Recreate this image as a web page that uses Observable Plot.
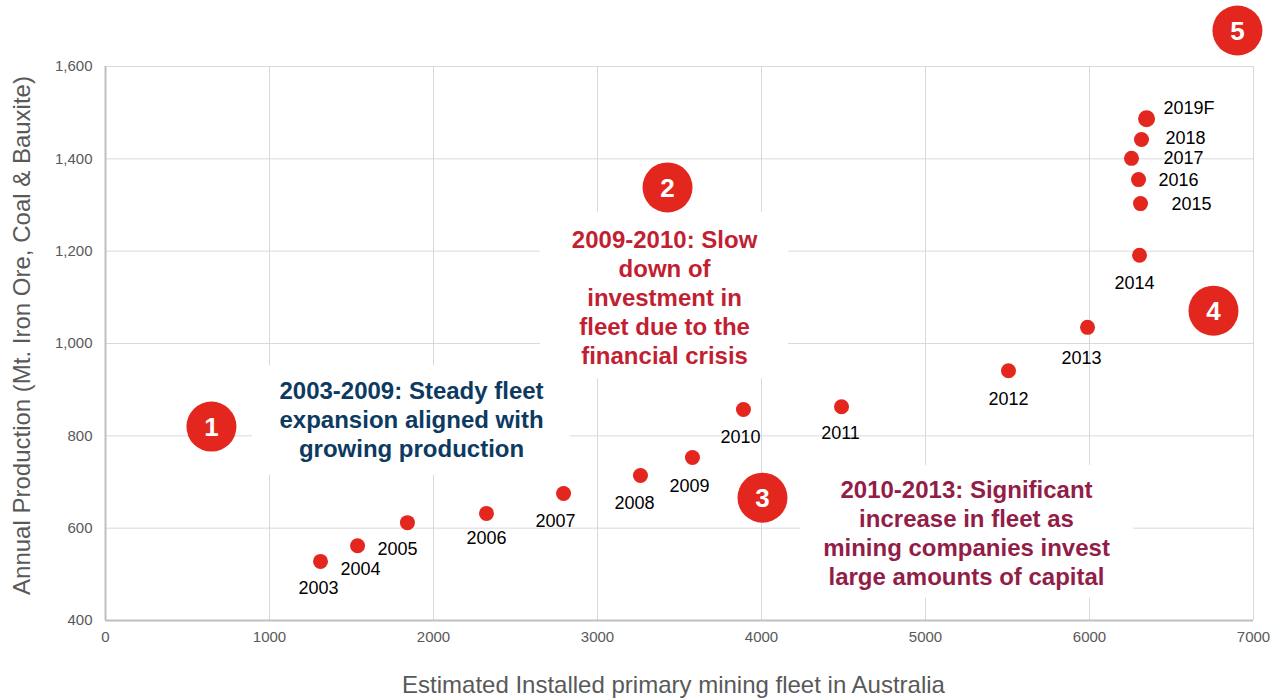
<!DOCTYPE html>
<html>
<head>
<meta charset="utf-8">
<script src="https://cdn.jsdelivr.net/npm/d3@7"></script>
<script src="https://cdn.jsdelivr.net/npm/@observablehq/plot@0.6"></script>
<style>
  html, body { margin: 0; padding: 0; background: #fff; }
  #chart svg { display: block; }
</style>
</head>
<body>
<div id="chart"></div>
<script>
// ---- data ----
const years = ["2003","2004","2005","2006","2007","2008","2009","2010","2011","2012","2013","2014","2015","2016","2017","2018","2019F"];
const fleet = [1311,1537,1841,2323,2793,3262,3579,3890,4488,5506,5988,6305,6311,6299,6256,6317,6348];
const production = [528,562,612,632,675,714,753,857,863,941,1035,1191,1303,1355,1401,1442,1487];

const xTicks = [0,1000,2000,3000,4000,5000,6000,7000];
const yTicks = [400,600,800,1000,1200,1400,1600];

// annotation texts & badge numbers
const badgeNums = ["1","2","3","4","5"];
const badgeX = [646, 3427, 4006, 6756, 6902];
const badgeY = [820, 1338, 666, 1071, 1678];

const noteText = [
  "2003-2009: Steady fleet\nexpansion aligned with\ngrowing production",
  "2009-2010: Slow\ndown of\ninvestment in\nfleet due to the\nfinancial crisis",
  "2010-2013: Significant\nincrease in fleet as\nmining companies invest\nlarge amounts of capital"
];
const noteX = [1866, 3409, 5250];
const noteY = [837, 1102, 592];
const noteX1 = [896, 2652, 4238];
const noteX2 = [2835, 4165, 6268];
const noteY1 = [714, 924, 448];
const noteY2 = [952, 1284, 736];
const noteColor = ["#0d3a61", "#c21f32", "#921d48"];

// label offsets (px) for year labels
const labelDx = [-2,3,-10,0,-8,-6,-3,-3,-1,0,-6,-5,31,20,32,24,17];
const labelDy = [27,24,27,25,28,28,29,28,26,28,31,28,1,1,0,-1,-10];

const pts = years.map((y, i) => ({year: y, x: fleet[i], y: production[i], dx: labelDx[i], dy: labelDy[i], right: i >= 12}));
const badges = badgeNums.map((n, i) => ({n, x: badgeX[i], y: badgeY[i]}));
const notes = noteText.map((t, i) => ({t, x: noteX[i], y: noteY[i], x1: noteX1[i], x2: noteX2[i], y1: noteY1[i], y2: noteY2[i], c: noteColor[i]}));

const font = "'Liberation Sans', Arial, Helvetica, sans-serif";
const red = "#e3261e";

const labelMarks = pts.map(p => Plot.text([p], {
  x: "x", y: "y", text: "year",
  dx: p.dx, dy: p.dy,
  textAnchor: p.right ? "start" : "middle",
  fontSize: 18, fill: "#000"
}));

const chart = Plot.plot({
  width: 1271,
  height: 699,
  marginLeft: 105,
  marginRight: 18,
  marginTop: 66,
  marginBottom: 79,
  style: {fontFamily: font, background: "#fff", overflow: "visible"},
  x: {domain: [0, 7000]},
  y: {domain: [400, 1600]},
  r: {type: "identity"},
  marks: [
    Plot.gridX(xTicks, {stroke: "#d9d9d9", strokeOpacity: 1}),
    Plot.gridY(yTicks, {stroke: "#d9d9d9", strokeOpacity: 1}),
    Plot.rect(notes, {x1: "x1", x2: "x2", y1: "y1", y2: "y2", fill: "#fff"}),
    Plot.ruleX([0], {stroke: "#bfbfbf", strokeWidth: 2}),
    Plot.ruleY([400], {stroke: "#bfbfbf", strokeWidth: 2}),
    Plot.axisX(xTicks, {tickSize: 0, tickPadding: 11, tickFormat: d => String(d), fontSize: 15, fill: "#595959", label: null}),
    Plot.axisY(yTicks, {tickSize: 0, tickPadding: 13, tickFormat: d3.format(","), fontSize: 15, fill: "#595959", label: null}),
    Plot.text(["Estimated Installed primary mining fleet in Australia"], {frameAnchor: "bottom", dy: 72, dx: -6, fontSize: 24, fill: "#595959"}),
    Plot.text(["Annual Production (Mt. Iron Ore, Coal & Bauxite)"], {frameAnchor: "left", textAnchor: "middle", dx: -83, dy: -8, rotate: -90, fontSize: 24, fill: "#595959"}),
    Plot.dot(pts, {x: "x", y: "y", r: d => d.year === "2019F" ? 8.5 : 7.5, fill: red, stroke: "none"}),
    ...labelMarks,
    Plot.text(notes, {x: "x", y: "y", text: "t", fill: "c", fontSize: 24, fontWeight: "bold", lineHeight: 1.21}),
    Plot.dot(badges, {x: "x", y: "y", r: 25, fill: red, stroke: "none"}),
    Plot.text(badges, {x: "x", y: "y", text: "n", fill: "#fff", fontSize: 26, fontWeight: "bold", dy: 1})
  ]
});

document.getElementById("chart").appendChild(chart);
</script>
</body>
</html>
